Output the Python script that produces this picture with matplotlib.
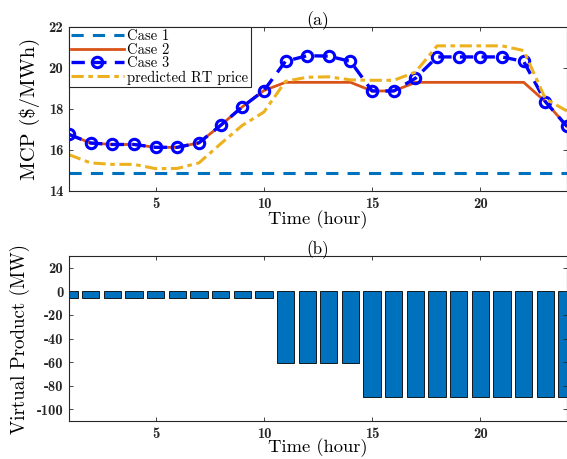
import numpy as np
import matplotlib
matplotlib.use("Agg")
import matplotlib.pyplot as plt

plt.rcParams['font.family'] = ['cmr10', 'DejaVu Serif']
plt.rcParams['axes.unicode_minus'] = False
plt.rcParams['mathtext.fontset'] = 'cm'
plt.rcParams['axes.formatter.use_mathtext'] = False

hours = list(range(1, 25))
case1 = [14.9] * 24
case2 = [16.76, 16.34, 16.27, 16.27, 16.13, 16.13, 16.35, 17.2, 18.1, 18.9,
         19.3, 19.3, 19.3, 19.3, 18.88, 18.88, 19.3, 19.3, 19.3, 19.3, 19.3, 19.3,
         18.36, 17.15]
case3 = [16.76, 16.34, 16.27, 16.27, 16.13, 16.13, 16.35, 17.2, 18.1, 18.9,
         20.33, 20.6, 20.58, 20.32, 18.88, 18.88, 19.5, 20.54, 20.54, 20.54, 20.54,
         20.32, 18.36, 17.15]
rt_price = [15.77, 15.37, 15.3, 15.3, 15.09, 15.1, 15.37, 16.3, 17.2, 17.85,
            19.35, 19.55, 19.57, 19.42, 19.4, 19.4, 19.8, 21.08, 21.08, 21.08, 21.08,
            20.85, 18.5, 17.9]
virtual = [-6] * 10 + [-61] * 4 + [-90] * 10

xticks = [5, 10, 15, 20]
yticks_a = [14, 16, 18, 20, 22]
yticks_b = [-100, -80, -60, -40, -20, 0, 20]

W, H = 567, 459
fig = plt.figure(figsize=(W / 100, H / 100), dpi=100)
ax1 = fig.add_axes([69 / W, 1 - 191 / H, (567 - 69) / W, (191 - 27) / H])
ax2 = fig.add_axes([69 / W, 1 - 421 / H, (567 - 69) / W, (421 - 256) / H])

c_blue = '#0072BD'
c_orange = '#D95319'
c_yellow = '#EDB120'
c_axes = '#262626'

ax1.plot(hours, case1, color=c_blue, lw=2.2, ls=(0, (4, 3)), label='Case 1')
ax1.plot(hours, case2, color=c_orange, lw=2.0, ls='-', label='Case 2')
ax1.plot(hours, case3, color='#0000FF', lw=2.4, ls=(0, (4, 2.5)), marker='o',
         markersize=7.5, markerfacecolor='none', markeredgewidth=2.2, label='Case 3')
ax1.plot(hours, rt_price, color=c_yellow, lw=2.2, ls=(0, (4, 1.5, 1.5, 1.5)),
         label='predicted RT price')

ax1.set_xlim(1, 24)
ax1.set_ylim(14, 22)
ax1.set_xticks(xticks)
ax1.set_yticks(yticks_a)
xl1 = ax1.set_xlabel('Time (hour)', fontsize=12)
yl1 = ax1.set_ylabel('MCP (\\$/MWh)', fontsize=12)
t1 = ax1.set_title('(a)', fontsize=11, pad=1.5)
leg = ax1.legend(loc='upper left', bbox_to_anchor=(0, 1), borderaxespad=0,
                 fontsize=10.5, handlelength=3.6, labelspacing=0.0,
                 handletextpad=0.25, borderpad=0.15, fancybox=False,
                 framealpha=1, edgecolor=c_axes)
leg.get_frame().set_linewidth(0.8)

ax2.bar(hours, virtual, width=0.8, color=c_blue, edgecolor='black', linewidth=0.6)
ax2.set_xlim(1, 24)
ax2.set_ylim(-110, 30)
ax2.set_xticks(xticks)
ax2.set_yticks(yticks_b)
xl2 = ax2.set_xlabel('Time (hour)', fontsize=12)
yl2 = ax2.set_ylabel('Virtual Product (MW)', fontsize=12)
t2 = ax2.set_title('(b)', fontsize=11, pad=1.5)

for ax in (ax1, ax2):
    ax.tick_params(direction='in', length=3, width=0.6, top=True, right=True,
                   labelsize=10.5, colors=c_axes, labelcolor='#262626', pad=4)
    for lab in ax.get_xticklabels() + ax.get_yticklabels():
        lab.set_fontfamily(['cmb10', 'DejaVu Serif'])
    for s in ax.spines.values():
        s.set_linewidth(0.8)
        s.set_color(c_axes)

# fit text sizes to measured pixel extents
fig.canvas.draw()
r = fig.canvas.get_renderer()

def fit(txt, target, dim='w'):
    bb = txt.get_window_extent(r)
    cur = bb.width if dim == 'w' else bb.height
    if cur > 0:
        txt.set_fontsize(txt.get_fontsize() * target / cur)

fit(xl1, 100, 'w')
fit(xl2, 100, 'w')
fit(yl1, 142, 'h')
fit(yl2, 190, 'h')
fit(t1, 23, 'w')
fit(t2, 23, 'w')

# label positions (right edge of y-labels, top of x-labels)
ax1.yaxis.set_label_coords((40 - 69) / 498, 0.5)
ax2.yaxis.set_label_coords((30 - 69) / 498, 0.5)
ax1.xaxis.set_label_coords(0.5, (191 - 210) / 164)
ax2.xaxis.set_label_coords(0.5, (421 - 438) / 165)

fig.savefig('out.png', dpi=100)
